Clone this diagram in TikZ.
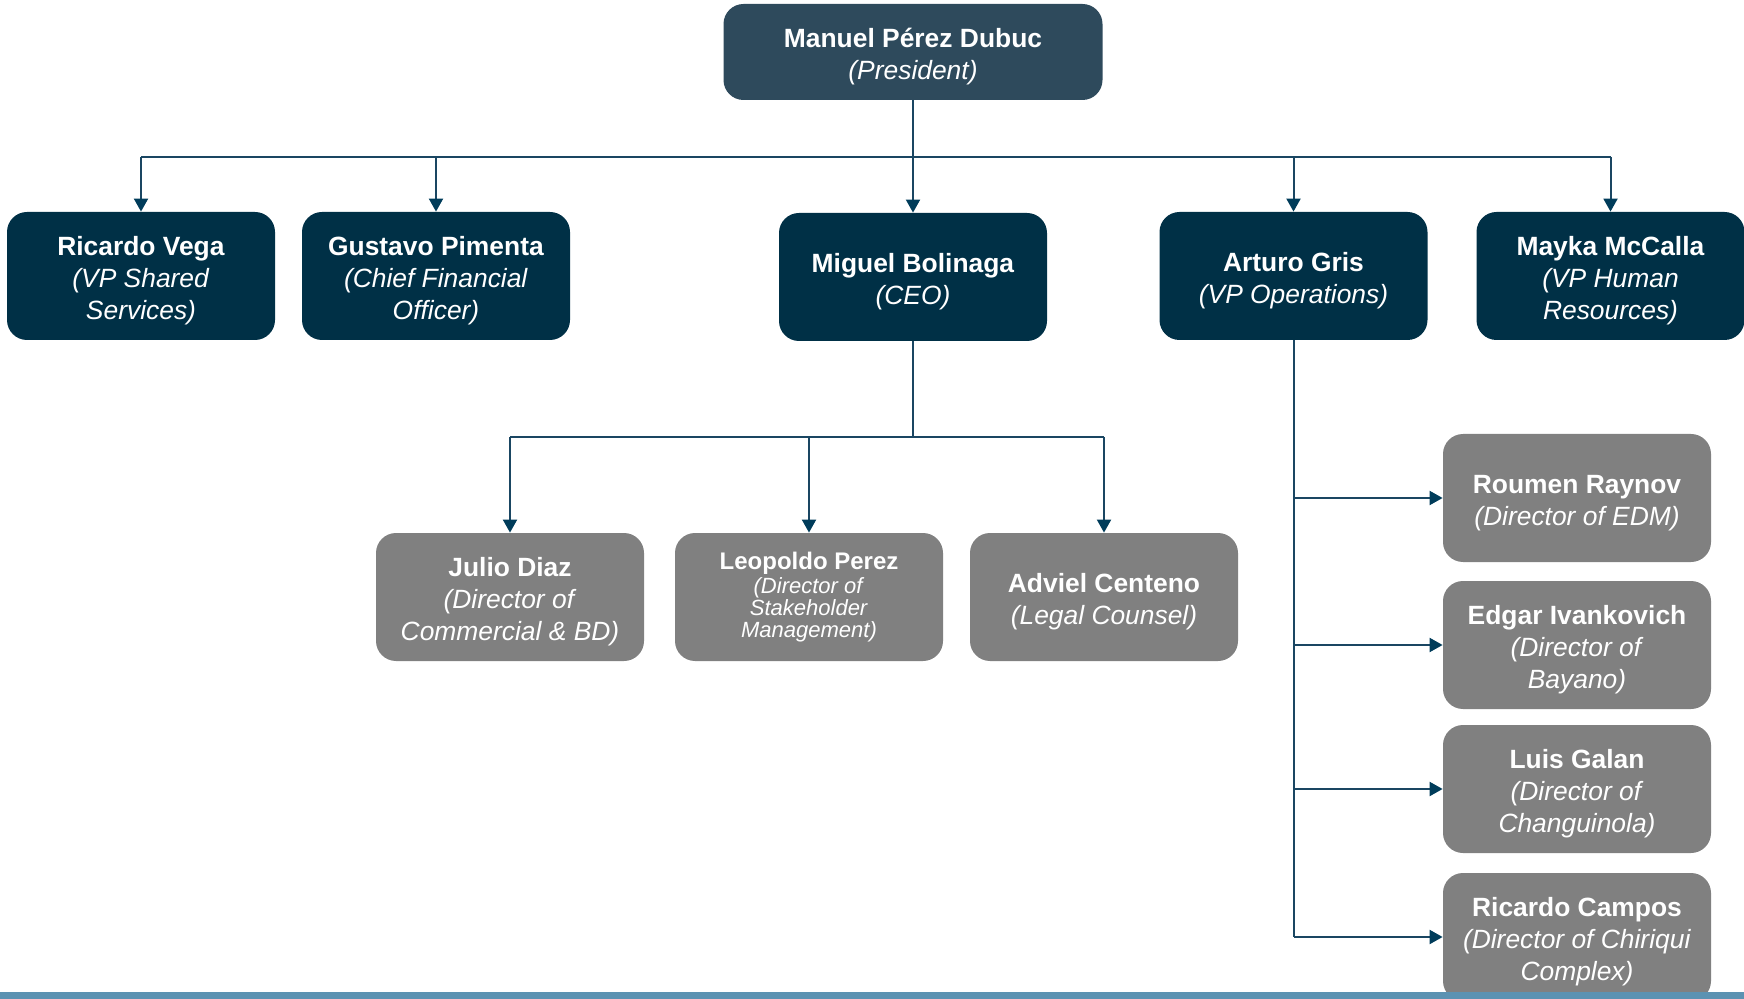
\documentclass[tikz,border=0pt]{standalone}
\usepackage{fontspec}
\setmainfont{Liberation Sans}
\usetikzlibrary{arrows.meta}
\definecolor{presfill}{RGB}{46,74,92}
\definecolor{vpfill}{RGB}{0,48,70}
\definecolor{dirfill}{RGB}{128,128,128}
\definecolor{linec}{RGB}{26,70,98}
\definecolor{tipc}{RGB}{0,60,90}
\definecolor{barc}{RGB}{91,146,178}
\newcommand\tstrut{\rule{0pt}{14pt}}
\begin{document}
\begin{tikzpicture}[x=0.5pt,y=-0.5pt,
 box/.style={rounded corners=10pt, minimum width=134pt, minimum height=64pt, text=white, align=center, inner sep=2pt, font=\fontsize{13.2}{16}\selectfont},
 presbox/.style={box, fill=presfill, minimum width=189.5pt, minimum height=48pt},
 vpbox/.style={box, fill=vpfill},
 dirbox/.style={box, fill=dirfill},
 conn/.style={draw=linec, line width=1pt},
 arr/.style={conn, -{Triangle[width=7pt,length=6.5pt,color=tipc]}}]
\useasboundingbox (0,0) rectangle (1744,999);
\node[presbox] (pres) at (913,52) {\tstrut\textbf{Manuel Pérez Dubuc}\\\textit{(President)}};
\node[vpbox] (rv) at (141,276) {\tstrut\textbf{Ricardo Vega}\\\textit{(VP Shared}\\\textit{Services)}};
\node[vpbox] (gp) at (436,276) {\tstrut\textbf{Gustavo Pimenta}\\\textit{(Chief Financial}\\\textit{Officer)}};
\node[vpbox] (mb) at (913,277) {\tstrut\textbf{Miguel Bolinaga}\\\textit{(CEO)}};
\node[vpbox] (ag) at (1293.5,276) {\tstrut\textbf{Arturo Gris}\\\textit{(VP Operations)}};
\node[vpbox] (mm) at (1610.5,276) {\tstrut\textbf{Mayka McCalla}\\\textit{(VP Human}\\\textit{Resources)}};
\node[dirbox] (jd) at (510,597) {\tstrut\textbf{Julio Diaz}\\\textit{(Director of}\\\textit{Commercial \& BD)}};
\node[dirbox, font=\fontsize{11}{11}\selectfont] (lp) at (809,597) {{\fontsize{12}{12}\selectfont\bfseries Leopoldo Perez}\\[1pt]\textit{(Director of}\\\textit{Stakeholder}\\\textit{Management)}};
\node[dirbox] (ac) at (1104,597) {\tstrut\textbf{Adviel Centeno}\\\textit{(Legal Counsel)}};
\node[dirbox] (rr) at (1577,498) {\tstrut\textbf{Roumen Raynov}\\\textit{(Director of EDM)}};
\node[dirbox] (ei) at (1577,645) {\tstrut\textbf{Edgar Ivankovich}\\\textit{(Director of}\\\textit{Bayano)}};
\node[dirbox] (lg) at (1577,789) {\tstrut\textbf{Luis Galan}\\\textit{(Director of}\\\textit{Changuinola)}};
\node[dirbox] (rc) at (1577,937) {\tstrut\textbf{Ricardo Campos}\\\textit{(Director of Chiriqui}\\\textit{Complex)}};
% president branch
\coordinate (bus1) at (913,157);
\draw[conn] (pres.south) -- (pres.south |- bus1);
\draw[conn] (rv.north |- bus1) -- (mm.north |- bus1);
\foreach \n in {rv,gp,mb,ag,mm} \draw[arr] (\n.north |- bus1) -- (\n.north);
% CEO branch
\coordinate (bus2) at (913,437);
\draw[conn] (mb.south) -- (mb.south |- bus2);
\draw[conn] (jd.north |- bus2) -- (ac.north |- bus2);
\foreach \n in {jd,lp,ac} \draw[arr] (\n.north |- bus2) -- (\n.north);
% operations branch
\draw[conn] (ag.south) -- (ag.south |- rc.west);
\foreach \n in {rr,ei,lg,rc} \draw[arr] (ag.south |- \n.west) -- (\n.west);
% bottom bar
\fill[barc] (0,992) rectangle (1744,999);
\end{tikzpicture}
\end{document}
